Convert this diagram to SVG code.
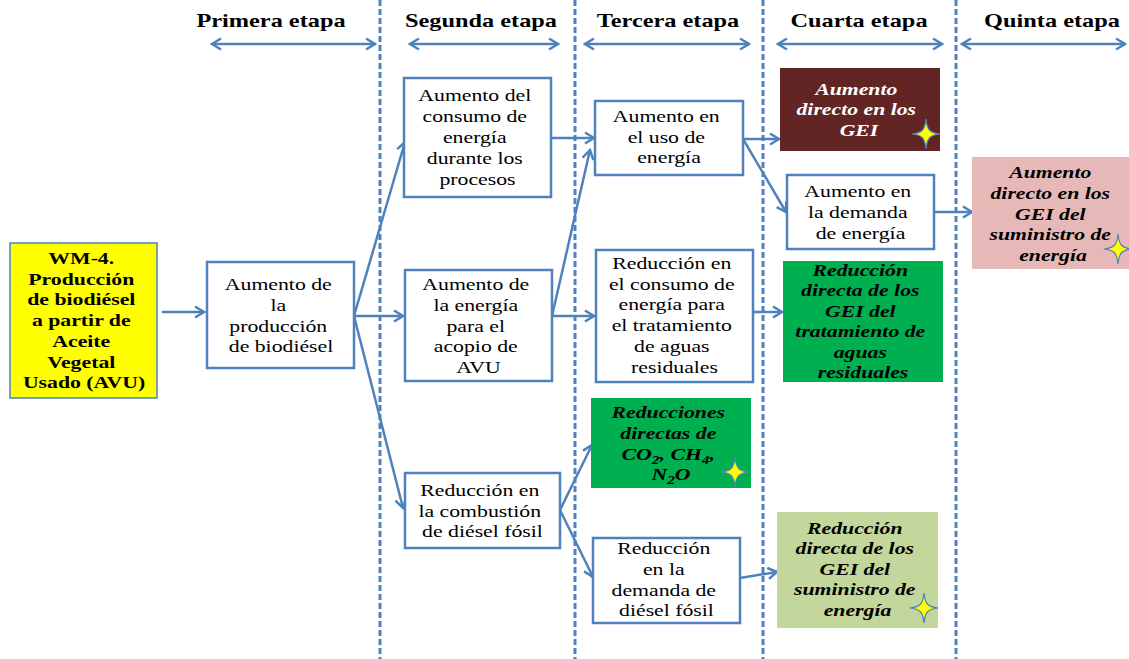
<svg xmlns="http://www.w3.org/2000/svg" width="1129" height="659" viewBox="0 0 1129 659">
  <style>
    .box { fill: #ffffff; stroke: #4f81bd; stroke-width: 2.5; }
    .fill { stroke: none; }
    .sep { stroke: #4f81bd; stroke-width: 3; stroke-dasharray: 6 3; fill: none; }
    .link { stroke: #4f81bd; stroke-width: 2.5; fill: none; }
    .t { font-family: "Liberation Serif", "Times New Roman", serif; font-size: 17px; fill: #000000; text-anchor: middle; }
    .b { font-weight: bold; }
    .bi { font-weight: bold; font-style: italic; }
    .hd { font-family: "Liberation Serif", "Times New Roman", serif; font-size: 19px; font-weight: bold; fill: #000000; text-anchor: middle; }
    .w { fill: #ffffff; }
    .star { fill: #ffff00; stroke: #4f81bd; stroke-width: 1.2; }
  </style>
  <defs>
    <marker id="head" markerUnits="userSpaceOnUse" markerWidth="14" markerHeight="14" viewBox="0 0 14 14" refX="12" refY="7" orient="auto">
      <path d="M3,1.5 L12,7 L3,12.5" fill="none" stroke="#4f81bd" stroke-width="2.5" stroke-linejoin="miter"/>
    </marker>
    <marker id="tail" markerUnits="userSpaceOnUse" markerWidth="14" markerHeight="14" viewBox="0 0 14 14" refX="2" refY="7" orient="auto">
      <path d="M11,1.5 L2,7 L11,12.5" fill="none" stroke="#4f81bd" stroke-width="2.5" stroke-linejoin="miter"/>
    </marker>
    <path id="star" class="star" d="M0,-15 C1,-4 4,-1 14,0 C4,1 1,4 0,15 C-1,4 -4,1 -14,0 C-4,-1 -1,-4 0,-15Z"/>
  </defs>

  <rect width="1129" height="659" fill="#ffffff"/>

  <!-- stage separators -->
  <g id="separators">
    <line class="sep" x1="380" y1="0" x2="380" y2="659"/>
    <line class="sep" x1="575" y1="0" x2="575" y2="659"/>
    <line class="sep" x1="763" y1="0" x2="763" y2="659"/>
    <line class="sep" x1="956" y1="0" x2="956" y2="659"/>
  </g>

  <!-- stage headers -->
  <g id="headers">
    <text class="hd" transform="translate(271 0) scale(1.28 1)" x="0" y="27">Primera etapa</text>
    <text class="hd" transform="translate(481 0) scale(1.28 1)" x="0" y="27">Segunda etapa</text>
    <text class="hd" transform="translate(668 0) scale(1.28 1)" x="0" y="27">Tercera etapa</text>
    <text class="hd" transform="translate(859 0) scale(1.28 1)" x="0" y="27">Cuarta etapa</text>
    <text class="hd" transform="translate(1052 0) scale(1.28 1)" x="0" y="27">Quinta etapa</text>
    <line class="link" x1="212" y1="44" x2="375" y2="44" marker-start="url(#tail)" marker-end="url(#head)"/>
    <line class="link" x1="410" y1="44" x2="558" y2="44" marker-start="url(#tail)" marker-end="url(#head)"/>
    <line class="link" x1="585" y1="44" x2="749" y2="44" marker-start="url(#tail)" marker-end="url(#head)"/>
    <line class="link" x1="778" y1="44" x2="942" y2="44" marker-start="url(#tail)" marker-end="url(#head)"/>
    <line class="link" x1="962" y1="44" x2="1125" y2="44" marker-start="url(#tail)" marker-end="url(#head)"/>
  </g>

  <!-- connectors -->
  <g id="connectors">
    <line class="link" x1="162" y1="312" x2="204" y2="312" marker-end="url(#head)"/>
    <line class="link" x1="354" y1="316" x2="405" y2="142" marker-end="url(#head)"/>
    <line class="link" x1="354" y1="316" x2="403" y2="316" marker-end="url(#head)"/>
    <line class="link" x1="354" y1="316" x2="403" y2="508" marker-end="url(#head)"/>
    <line class="link" x1="551" y1="138" x2="594" y2="138" marker-end="url(#head)"/>
    <line class="link" x1="552" y1="316" x2="590" y2="150" marker-end="url(#head)"/>
    <line class="link" x1="552" y1="316" x2="594" y2="316" marker-end="url(#head)"/>
    <line class="link" x1="560" y1="510" x2="592" y2="445" marker-end="url(#head)"/>
    <line class="link" x1="560" y1="510" x2="593" y2="577" marker-end="url(#head)"/>
    <line class="link" x1="743" y1="139" x2="779" y2="139" marker-end="url(#head)"/>
    <line class="link" x1="743" y1="139" x2="786" y2="212" marker-end="url(#head)"/>
    <line class="link" x1="934" y1="212" x2="972" y2="212" marker-end="url(#head)"/>
    <line class="link" x1="753" y1="312" x2="782" y2="312" marker-end="url(#head)"/>
    <line class="link" x1="740" y1="578" x2="777" y2="572" marker-end="url(#head)"/>
  </g>

  <!-- source measure -->
  <g id="wm4">
    <rect x="10" y="243" width="147" height="155" fill="#ffff00" stroke="#4f81bd" stroke-width="1.5"/>
    <text class="t b" transform="translate(84 0) scale(1.28 1)">
      <tspan x="0" y="264">WM-4.</tspan>
      <tspan x="0" y="285">Producción</tspan>
      <tspan x="0" y="305.5">de biodiésel</tspan>
      <tspan x="0" y="326">a partir de</tspan>
      <tspan x="0" y="347">Aceite</tspan>
      <tspan x="0" y="368">Vegetal</tspan>
      <tspan x="0" y="388.5">Usado (AVU)</tspan>
    </text>
  </g>

  <!-- first stage -->
  <g id="produccion">
    <rect class="box" x="207" y="262" width="147" height="106"/>
    <text class="t" transform="translate(281 0) scale(1.28 1)">
      <tspan x="0" y="290.5">Aumento de</tspan>
      <tspan x="0" y="311.5">la</tspan>
      <tspan x="0" y="332">producción</tspan>
      <tspan x="0" y="352.5">de biodiésel</tspan>
    </text>
  </g>

  <!-- second stage -->
  <g id="consumo-procesos">
    <rect class="box" x="404" y="78" width="147" height="119"/>
    <text class="t" transform="translate(477.5 0) scale(1.28 1)">
      <tspan x="0" y="101.5">Aumento del</tspan>
      <tspan x="0" y="122.5">consumo de</tspan>
      <tspan x="0" y="143">energía</tspan>
      <tspan x="0" y="164">durante los</tspan>
      <tspan x="0" y="185">procesos</tspan>
    </text>
  </g>

  <g id="energia-acopio">
    <rect class="box" x="405" y="270" width="147" height="111"/>
    <text class="t" transform="translate(478.5 0) scale(1.28 1)">
      <tspan x="0" y="290.5">Aumento de</tspan>
      <tspan x="0" y="311.5">la energía</tspan>
      <tspan x="0" y="332">para el</tspan>
      <tspan x="0" y="352.5">acopio de</tspan>
      <tspan x="0" y="373">AVU</tspan>
    </text>
  </g>

  <g id="combustion-diesel">
    <rect class="box" x="405" y="473" width="155" height="75"/>
    <text class="t" transform="translate(482.5 0) scale(1.28 1)">
      <tspan x="0" y="496">Reducción en</tspan>
      <tspan x="0" y="517">la combustión</tspan>
      <tspan x="0" y="537.5">de diésel fósil</tspan>
    </text>
  </g>

  <!-- third stage -->
  <g id="uso-energia">
    <rect class="box" x="595" y="101" width="148" height="74"/>
    <text class="t" transform="translate(669 0) scale(1.28 1)">
      <tspan x="0" y="122.5">Aumento en</tspan>
      <tspan x="0" y="143">el uso de</tspan>
      <tspan x="0" y="163.5">energía</tspan>
    </text>
  </g>

  <g id="consumo-tratamiento">
    <rect class="box" x="596" y="250" width="157" height="132"/>
    <text class="t" transform="translate(674.5 0) scale(1.28 1)">
      <tspan x="0" y="269.5">Reducción en</tspan>
      <tspan x="0" y="290">el consumo de</tspan>
      <tspan x="0" y="310.5">energía para</tspan>
      <tspan x="0" y="331.5">el tratamiento</tspan>
      <tspan x="0" y="352">de aguas</tspan>
      <tspan x="0" y="373">residuales</tspan>
    </text>
  </g>

  <g id="reducciones-directas">
    <rect class="fill" x="591" y="398" width="160" height="90" fill="#00b050"/>
    <text class="t bi" transform="translate(671 0) scale(1.28 1)">
      <tspan x="0" y="418.5">Reducciones</tspan>
      <tspan x="0" y="439.5">directas de</tspan>
      <tspan x="0" y="460.5">CO<tspan font-size="12" dy="4">2</tspan><tspan dy="-4">, CH</tspan><tspan font-size="12" dy="4">4</tspan><tspan dy="-4">,</tspan></tspan>
      <tspan x="0" y="480.5">N<tspan font-size="12" dy="4">2</tspan><tspan dy="-4">O</tspan></tspan>
    </text>
    <use href="#star" x="735" y="472"/>
  </g>

  <g id="demanda-diesel">
    <rect class="box" x="593" y="538" width="147" height="85"/>
    <text class="t" transform="translate(666.5 0) scale(1.28 1)">
      <tspan x="0" y="554">Reducción</tspan>
      <tspan x="0" y="575">en la</tspan>
      <tspan x="0" y="596">demanda de</tspan>
      <tspan x="0" y="616.5">diésel fósil</tspan>
    </text>
  </g>

  <!-- fourth stage -->
  <g id="gei-directo">
    <rect class="fill" x="780" y="68" width="160" height="83" fill="#632523"/>
    <text class="t bi w" transform="translate(859 0) scale(1.28 1)">
      <tspan x="0" y="95">Aumento</tspan>
      <tspan x="0" y="115.5">directo en los</tspan>
      <tspan x="0" y="136">GEI</tspan>
    </text>
    <use href="#star" x="926" y="134"/>
  </g>

  <g id="demanda-energia">
    <rect class="box" x="787" y="175" width="147" height="74"/>
    <text class="t" transform="translate(860.5 0) scale(1.28 1)">
      <tspan x="0" y="197.5">Aumento en</tspan>
      <tspan x="0" y="218.5">la demanda</tspan>
      <tspan x="0" y="239">de energía</tspan>
    </text>
  </g>

  <g id="gei-tratamiento">
    <rect class="fill" x="783" y="261" width="160" height="121" fill="#00b050"/>
    <text class="t bi" transform="translate(863 0) scale(1.28 1)">
      <tspan x="0" y="276">Reducción</tspan>
      <tspan x="0" y="296.5">directa de los</tspan>
      <tspan x="0" y="317">GEI del</tspan>
      <tspan x="0" y="337.5">tratamiento de</tspan>
      <tspan x="0" y="358">aguas</tspan>
      <tspan x="0" y="378.5">residuales</tspan>
    </text>
  </g>

  <g id="gei-suministro-reduccion">
    <rect class="fill" x="777" y="512" width="161" height="116" fill="#c3d69b"/>
    <text class="t bi" transform="translate(857.5 0) scale(1.28 1)">
      <tspan x="0" y="534">Reducción</tspan>
      <tspan x="0" y="554.5">directa de los</tspan>
      <tspan x="0" y="575">GEI del</tspan>
      <tspan x="0" y="595.5">suministro de</tspan>
      <tspan x="0" y="616.5">energía</tspan>
    </text>
    <use href="#star" x="924" y="608"/>
  </g>

  <!-- fifth stage -->
  <g id="gei-suministro-aumento">
    <rect class="fill" x="972" y="157" width="157" height="112" fill="#e6b9b8"/>
    <text class="t bi" transform="translate(1053 0) scale(1.28 1)">
      <tspan x="0" y="178">Aumento</tspan>
      <tspan x="0" y="199">directo en los</tspan>
      <tspan x="0" y="220">GEI del</tspan>
      <tspan x="0" y="240.5">suministro de</tspan>
      <tspan x="0" y="261.5">energía</tspan>
    </text>
    <use href="#star" x="1118" y="249"/>
  </g>
</svg>
